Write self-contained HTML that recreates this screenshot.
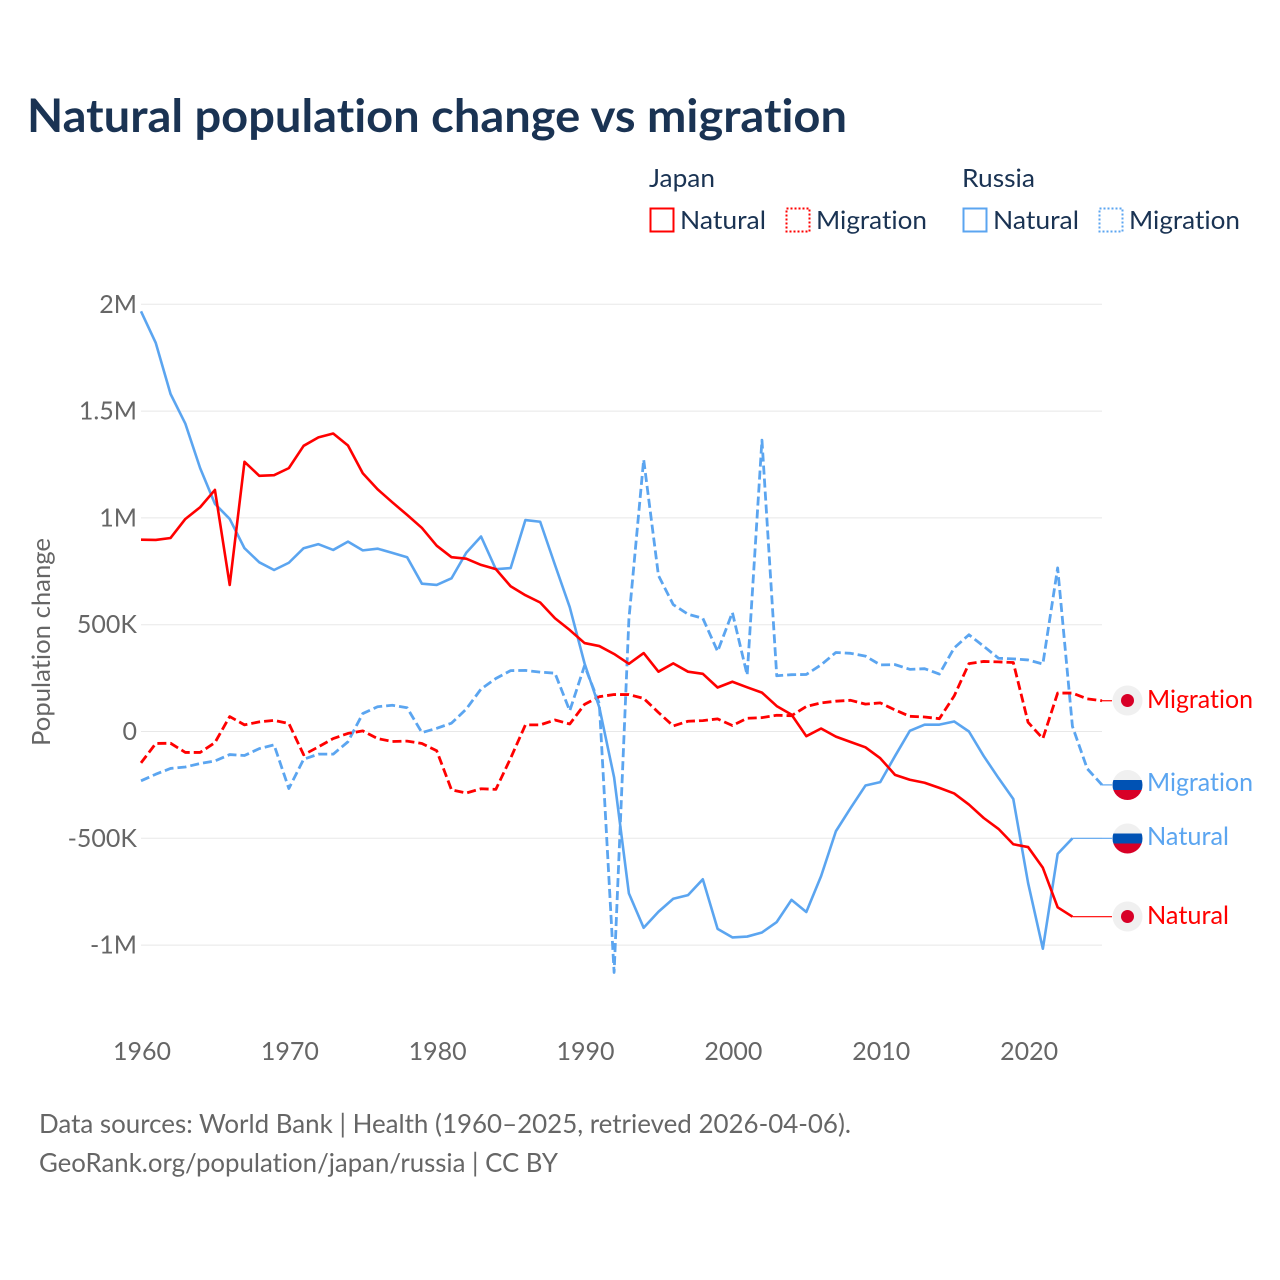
<!DOCTYPE html>
<html lang="en">
<head>
<meta charset="utf-8">
<title>Natural population change vs migration</title>
<style>
html,body{margin:0;padding:0;background:#fff;}
svg{display:block;}
text{font-family:"Lato","Carlito","Liberation Sans",sans-serif;font-variant-ligatures:none;font-feature-settings:"liga" 0;}
</style>
</head>
<body>
<svg id="chart" xmlns="http://www.w3.org/2000/svg" width="1280" height="1280" viewBox="0 0 1280 1280">
  <rect x="0" y="0" width="1280" height="1280" fill="#ffffff"/>
  <text x="27" y="132" font-size="46" font-weight="700" fill="#1a3353" textLength="820" lengthAdjust="spacingAndGlyphs">Natural population change vs migration</text>

  <g font-size="25" fill="#1a3353">
    <text x="649" y="187" textLength="66" lengthAdjust="spacingAndGlyphs">Japan</text>
    <text x="962" y="187" textLength="73" lengthAdjust="spacingAndGlyphs">Russia</text>
    <rect x="650.5" y="208.5" width="23" height="23" fill="none" stroke="#ff0000" stroke-width="2"/>
    <text x="680" y="229" textLength="86" lengthAdjust="spacingAndGlyphs">Natural</text>
    <rect x="786.5" y="208.5" width="23" height="23" fill="none" stroke="#ff0000" stroke-width="2" stroke-dasharray="2 2"/>
    <text x="816" y="229" textLength="111" lengthAdjust="spacingAndGlyphs">Migration</text>
    <rect x="963.5" y="208.5" width="23" height="23" fill="none" stroke="#5ba5f0" stroke-width="2"/>
    <text x="993" y="229" textLength="86" lengthAdjust="spacingAndGlyphs">Natural</text>
    <rect x="1099.5" y="208.5" width="23" height="23" fill="none" stroke="#5ba5f0" stroke-width="2" stroke-dasharray="2 2"/>
    <text x="1129" y="229" textLength="111" lengthAdjust="spacingAndGlyphs">Migration</text>
  </g>

  <text transform="translate(50,642) rotate(-90)" text-anchor="middle" font-size="25" fill="#666666" textLength="208" lengthAdjust="spacingAndGlyphs">Population change</text>

  <g id="grid"></g>
  <g id="yticks" font-size="25" fill="#666666" text-anchor="end"></g>
  <g id="xticks" font-size="25" fill="#666666" text-anchor="middle"></g>
  <g id="series" fill="none" stroke-linejoin="round"></g>

  <defs>
    <clipPath id="flag-clip-a"><circle cx="1127.5" cy="785" r="15"/></clipPath>
    <clipPath id="flag-clip-b"><circle cx="1127.5" cy="838.5" r="15"/></clipPath>
  </defs>

  <g>
    <circle cx="1127.5" cy="700.5" r="15" fill="#f0f0f0"/>
    <circle cx="1127.5" cy="700.5" r="6.5" fill="#d80027"/>
    <text x="1147" y="708" font-size="25" fill="#ff0000" textLength="106" lengthAdjust="spacingAndGlyphs">Migration</text>
  </g>
  <g>
    <g clip-path="url(#flag-clip-a)">
      <rect x="1112" y="770" width="31" height="10" fill="#f0f0f0"/>
      <rect x="1112" y="780" width="31" height="10" fill="#0052b4"/>
      <rect x="1112" y="790" width="31" height="10" fill="#d80027"/>
    </g>
    <text x="1147" y="791" font-size="25" fill="#5ba5f0" textLength="106" lengthAdjust="spacingAndGlyphs">Migration</text>
  </g>
  <g>
    <g clip-path="url(#flag-clip-b)">
      <rect x="1112" y="823" width="31" height="10.5" fill="#f0f0f0"/>
      <rect x="1112" y="833.5" width="31" height="10" fill="#0052b4"/>
      <rect x="1112" y="843.5" width="31" height="10.5" fill="#d80027"/>
    </g>
    <text x="1147" y="845" font-size="25" fill="#5ba5f0" textLength="82" lengthAdjust="spacingAndGlyphs">Natural</text>
  </g>
  <g>
    <circle cx="1127.5" cy="916.5" r="15" fill="#f0f0f0"/>
    <circle cx="1127.5" cy="916.5" r="6.5" fill="#d80027"/>
    <text x="1147" y="924" font-size="25" fill="#ff0000" textLength="82" lengthAdjust="spacingAndGlyphs">Natural</text>
  </g>

  <text x="39" y="1133" font-size="26" fill="#666666" textLength="812" lengthAdjust="spacingAndGlyphs">Data sources: World Bank | Health (1960–2025, retrieved 2026-04-06).</text>
  <text x="39" y="1172" font-size="26" fill="#666666" textLength="519" lengthAdjust="spacingAndGlyphs">GeoRank.org/population/japan/russia | CC BY</text>
</svg>

<script>
const firstYear = 1960;
const yTickValues = [2, 1.5, 1, 0.5, 0, -0.5, -1];
const yTickLabels = ["2M", "1.5M", "1M", "500K", "0", "-500K", "-1M"];
const xTickYears = [1960, 1970, 1980, 1990, 2000, 2010, 2020];

// Values in millions, one per year beginning at firstYear
const japanNatural = [
  0.898, 0.897, 0.906, 0.995, 1.05, 1.131, 0.686, 1.2625, 1.197, 1.2,
  1.233, 1.3375, 1.377, 1.395, 1.339, 1.209, 1.134, 1.073, 1.014, 0.953,
  0.87, 0.816, 0.809, 0.78, 0.76, 0.68, 0.638, 0.604, 0.53, 0.475,
  0.414, 0.4, 0.363, 0.317, 0.367, 0.28, 0.319, 0.28, 0.27, 0.206,
  0.233, 0.207, 0.182, 0.119, 0.079, -0.022, 0.014, -0.024, -0.049, -0.074,
  -0.125, -0.203, -0.226, -0.24, -0.264, -0.29, -0.342, -0.405, -0.456, -0.528,
  -0.541, -0.638, -0.823, -0.867
];
const japanMigration = [
  -0.147, -0.056, -0.055, -0.098, -0.098, -0.052, 0.07, 0.031, 0.045, 0.052,
  0.0375, -0.109, -0.072, -0.033, -0.009, 0.003, -0.033, -0.047, -0.045, -0.056,
  -0.09, -0.273, -0.288, -0.268, -0.271, -0.125, 0.031, 0.031, 0.054, 0.035,
  0.127, 0.163, 0.173, 0.173, 0.155, 0.089, 0.026, 0.048, 0.051, 0.059,
  0.028, 0.062, 0.065, 0.076, 0.074, 0.117, 0.134, 0.142, 0.146, 0.128,
  0.134, 0.101, 0.071, 0.068, 0.06, 0.166, 0.318, 0.328, 0.326, 0.323,
  0.043, -0.033, 0.18, 0.18, 0.153, 0.144
];
const russiaNatural = [
  1.967, 1.819, 1.58, 1.441, 1.233, 1.066, 0.995, 0.858, 0.792, 0.756,
  0.79, 0.858, 0.877, 0.85, 0.889, 0.848, 0.856, 0.836, 0.816, 0.692,
  0.686, 0.717, 0.837, 0.913, 0.76, 0.765, 0.99, 0.982, 0.78, 0.582,
  0.319, 0.113, -0.215, -0.758, -0.919, -0.844, -0.783, -0.766, -0.692, -0.924,
  -0.964, -0.96, -0.941, -0.892, -0.788, -0.845, -0.677, -0.467, -0.358, -0.253,
  -0.237, -0.115, 0.003, 0.032, 0.032, 0.047, 0, -0.115, -0.218, -0.316,
  -0.709, -1.017, -0.573, -0.5
];
const russiaMigration = [
  -0.231, -0.2, -0.173, -0.166, -0.15, -0.138, -0.108, -0.1125, -0.08, -0.0625,
  -0.267, -0.13, -0.106, -0.106, -0.048, 0.084, 0.116, 0.123, 0.111, -0.005,
  0.015, 0.039, 0.105, 0.199, 0.248, 0.285, 0.286, 0.278, 0.273, 0.097,
  0.308, 0.13, -1.128, 0.525, 1.273, 0.73, 0.594, 0.549, 0.53, 0.375,
  0.557, 0.264, 1.364, 0.261, 0.266, 0.267, 0.312, 0.37, 0.366, 0.353,
  0.312, 0.313, 0.291, 0.294, 0.269, 0.391, 0.453, 0.399, 0.343, 0.34,
  0.335, 0.316, 0.766, 0.024, -0.174, -0.25
];

const svgNS = "http://www.w3.org/2000/svg";
const plotLeft = 141;
const plotRight = 1102;
const labelAnchorX = 1112;
const yearStep = (plotRight - plotLeft) / 65;
const zeroY = 731.5;
const pixelsPerMillion = 213.6;

function xScale(year) { return plotLeft + (year - firstYear) * yearStep; }
function yScale(value) { return zeroY - value * pixelsPerMillion; }

const gridGroup = document.getElementById("grid");
const yTickGroup = document.getElementById("yticks");
yTickValues.forEach(function (v, i) {
  const line = document.createElementNS(svgNS, "line");
  
  
  line.setAttribute("x1", plotLeft);
  line.setAttribute("x2", plotRight);
  line.setAttribute("y1", yScale(v));
  line.setAttribute("y2", yScale(v));
  line.setAttribute("stroke", "#e8e8e8");
  line.setAttribute("stroke-width", "1");
  gridGroup.appendChild(line);

  const label = document.createElementNS(svgNS, "text");
  
  
  label.setAttribute("x", 137);
  label.setAttribute("y", yScale(v) + 8.5);
  label.textContent = yTickLabels[i];
  yTickGroup.appendChild(label);
});

const xTickGroup = document.getElementById("xticks");
xTickYears.forEach(function (year) {
  const label = document.createElementNS(svgNS, "text");
  
  
  label.setAttribute("x", xScale(year) + 1);
  label.setAttribute("y", 1060);
  label.textContent = year;
  xTickGroup.appendChild(label);
});

const seriesGroup = document.getElementById("series");
function drawSeries(values, color, dash, name) {
  const pts = values.map(function (v, i) {
    return xScale(firstYear + i).toFixed(2) + "," + yScale(v).toFixed(2);
  });
  const lastIndex = values.length - 1;

  const connector = document.createElementNS(svgNS, "line");
  
  
  connector.setAttribute("x1", xScale(firstYear + lastIndex));
  connector.setAttribute("y1", yScale(values[lastIndex]));
  connector.setAttribute("x2", labelAnchorX);
  connector.setAttribute("y2", yScale(values[lastIndex]));
  connector.setAttribute("stroke", color);
  connector.setAttribute("stroke-width", "1.2");
  seriesGroup.appendChild(connector);

  const line = document.createElementNS(svgNS, "polyline");
  
  
  line.setAttribute("points", pts.join(" "));
  line.setAttribute("stroke", color);
  line.setAttribute("stroke-width", dash ? "2.8" : "2.6");
  if (dash) line.setAttribute("stroke-dasharray", dash);
  seriesGroup.appendChild(line);
}
drawSeries(russiaMigration, "#5ba5f0", "9 4", "line-russia-migration");
drawSeries(japanMigration, "#ff0000", "9 4", "line-japan-migration");
drawSeries(russiaNatural, "#5ba5f0", "", "line-russia-natural");
drawSeries(japanNatural, "#ff0000", "", "line-japan-natural");
</script>
</body>
</html>
